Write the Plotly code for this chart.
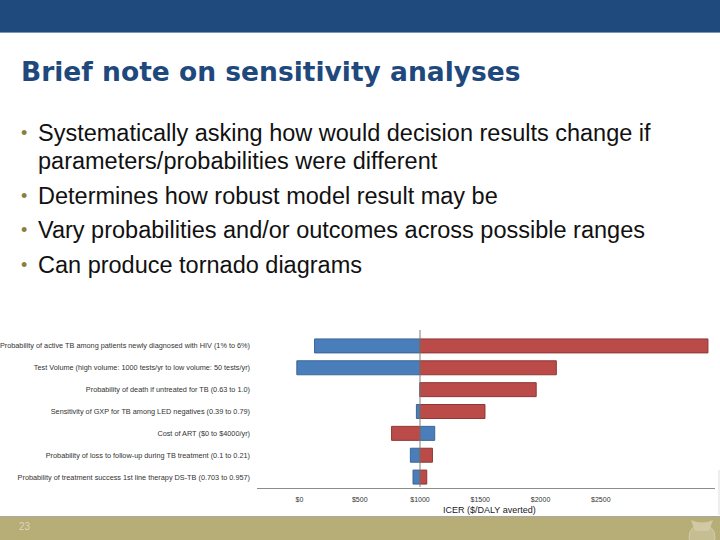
import plotly.graph_objects as go

# ---------------- data ----------------
parameters = [
    "Probability of active TB among patients newly diagnosed with HIV (1% to 6%)",
    "Test Volume (high volume: 1000 tests/yr to low volume: 50 tests/yr)",
    "Probability of death if untreated for TB (0.63 to 1.0)",
    "Sensitivity of GXP for TB among LED negatives (0.39 to 0.79)",
    "Cost of ART ($0 to $4000/yr)",
    "Probability of loss to follow-up during TB treatment (0.1 to 0.21)",
    "Probability of treatment success 1st line therapy DS-TB (0.703 to 0.957)",
]
base_icer = 1000
blue_values = [125, -22, 1000, 970, 1122, 920, 942]
red_values = [3389, 2131, 1964, 1539, 764, 1103, 1056]
x_tickvals = [0, 500, 1000, 1500, 2000, 2500]
x_ticktext = ["$0", "$500", "$1000", "$1500", "$2000", "$2500"]

title_text = "Brief note on sensitivity analyses"
bullets = [
    ["Systematically asking how would decision results change if",
     "parameters/probabilities were different"],
    ["Determines how robust model result may be"],
    ["Vary probabilities and/or outcomes across possible ranges"],
    ["Can produce tornado diagrams"],
]
page_number = "23"

# ---------------- figure ----------------
fig = go.Figure()
fig.add_trace(go.Bar(
    y=parameters, x=[v - base_icer for v in blue_values], base=base_icer,
    orientation="h", width=0.64,
    marker=dict(color="#4A7EBB", line=dict(color="#3A6594", width=1)),
    showlegend=False, hoverinfo="skip",
))
fig.add_trace(go.Bar(
    y=parameters, x=[v - base_icer for v in red_values], base=base_icer,
    orientation="h", width=0.64,
    marker=dict(color="#BB4B48", line=dict(color="#8E3835", width=1)),
    showlegend=False, hoverinfo="skip",
))

W, H = 720, 540
def py(p):  # pixel y -> paper
    return (H - p) / H
def px(p):
    return p / W

shapes = []
# header band
shapes.append(dict(type="rect", xref="paper", yref="paper", x0=0, x1=1,
                   y0=py(32), y1=1, fillcolor="#1F4A7E", line=dict(width=0), layer="below"))
shapes.append(dict(type="line", xref="paper", yref="paper", x0=0, x1=1,
                   y0=py(32.5), y1=py(32.5), line=dict(color="#7A96B8", width=1)))
# footer band
shapes.append(dict(type="rect", xref="paper", yref="paper", x0=0, x1=1,
                   y0=0, y1=py(517), fillcolor="#B7AD77", line=dict(width=0), layer="below"))
shapes.append(dict(type="line", xref="paper", yref="paper", x0=0, x1=1,
                   y0=py(516.5), y1=py(516.5), line=dict(color="#A8A8A8", width=1)))
# logo (faint globe)
shapes.append(dict(type="circle", xref="paper", yref="paper", x0=px(689), x1=px(715),
                   y0=py(550), y1=py(524), fillcolor="#C6BE93", line=dict(color="#D3CCA8", width=1)))
shapes.append(dict(type="path", xref="paper", yref="paper",
                   path=f"M {px(691)} {py(520)} Q {px(702)} {py(525)} {px(713)} {py(520)} L {px(709)} {py(531)} L {px(695)} {py(531)} Z",
                   fillcolor="#D0C9A4", line=dict(width=0)))
# vertical base line
shapes.append(dict(type="line", xref="x", yref="paper", x0=base_icer, x1=base_icer,
                   y0=py(487), y1=py(330), line=dict(color="#7F7F7F", width=1)))
# right chart border
shapes.append(dict(type="line", xref="paper", yref="paper", x0=px(719), x1=px(719),
                   y0=py(515), y1=py(470), line=dict(color="#DDDDDD", width=1)))

annotations = []
annotations.append(dict(text=f"<b>{title_text}</b>", x=px(19), y=py(72), xref="paper", yref="paper",
                        xanchor="left", yanchor="middle", showarrow=False,
                        font=dict(family="DejaVu Sans", size=26.5, color="#1F497D")))
line_y = [[133, 161], [196], [230], [265]]
for lines, ys in zip(bullets, line_y):
    annotations.append(dict(text="•", x=px(19), y=py(ys[0]), xref="paper", yref="paper",
                            xanchor="left", yanchor="middle", showarrow=False,
                            font=dict(family="Liberation Sans", size=18, color="#8C7E3C")))
    for t, yy in zip(lines, ys):
        annotations.append(dict(text=t, x=px(36), y=py(yy), xref="paper", yref="paper",
                                xanchor="left", yanchor="middle", showarrow=False,
                                font=dict(family="Liberation Sans", size=23.5, color="#111111")))
annotations.append(dict(text="ICER ($/DALY averted)", x=px(489), y=py(510), xref="paper", yref="paper",
                        xanchor="center", yanchor="middle", showarrow=False,
                        font=dict(family="Liberation Sans", size=9, color="#222222")))
annotations.append(dict(text=page_number, x=px(17), y=py(526), xref="paper", yref="paper",
                        xanchor="left", yanchor="middle", showarrow=False,
                        font=dict(family="Liberation Sans", size=10, color="#DDD7B8")))

fig.update_layout(
    width=W, height=H, margin=dict(l=0, r=0, t=0, b=0),
    paper_bgcolor="white", plot_bgcolor="white",
    barmode="overlay", shapes=shapes, annotations=annotations,
    xaxis=dict(domain=[px(257), px(715)], range=[-352.5, 3447.5],
               tickvals=x_tickvals, ticktext=x_ticktext, showgrid=False, zeroline=False,
               showline=True, linecolor="#8C8C8C", linewidth=1, ticks="",
               tickfont=dict(family="Liberation Sans", size=7, color="#333333"),
               ticklabelstandoff=5),
    yaxis=dict(domain=[py(488), py(335)], autorange="reversed", showgrid=False,
               zeroline=False, showline=False, ticks="",
               tickfont=dict(family="Liberation Sans", size=7.3, color="#333333"),
               ticklabelstandoff=6),
)

fig.write_html("out.html", config={"displayModeBar": False},
               post_script="document.body.style.margin='0';document.body.style.padding='0';")
